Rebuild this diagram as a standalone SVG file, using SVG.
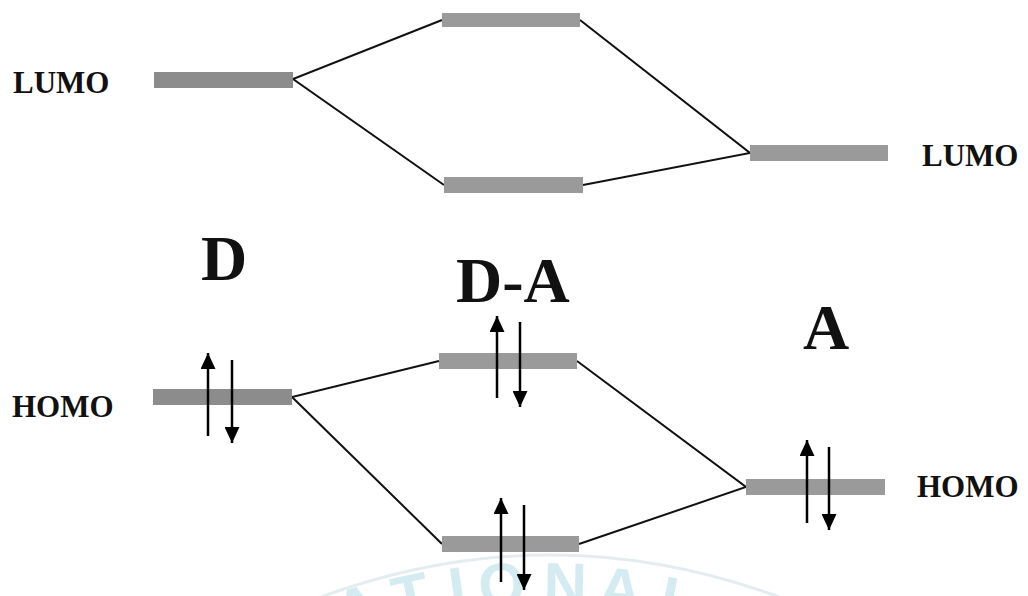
<svg xmlns="http://www.w3.org/2000/svg" width="1028" height="596" viewBox="0 0 1028 596">
  <defs>
    <marker id="ah" markerUnits="userSpaceOnUse" markerWidth="16" markerHeight="15" refX="16" refY="7.5" orient="auto" viewBox="0 0 16 15">
      <path d="M0,0 L16,7.5 L0,15 z" fill="#000"/>
    </marker>
    <style>
      .lab { font-family: "Liberation Serif", "Times New Roman", serif; font-weight: bold; fill: #111; }
      .small { font-size: 31px; }
      .big { font-size: 64px; }
      .bar1 { fill: #8c8c8c; }
      .bar2 { fill: #9a9a9a; }
      .conn { stroke: #111; stroke-width: 2; fill: none; }
      .spin { stroke: #000; stroke-width: 2.5; marker-end: url(#ah); }
      .wm { font-family: "Liberation Sans", Arial, sans-serif; font-weight: bold; font-size: 60px; fill: #d3ebf1; }
    </style>
  </defs>
  <rect width="1028" height="596" fill="#fff"/>

  <!-- watermark -->
  <g id="watermark">
    <path d="M318 598 Q550 512 782 598" fill="none" stroke="#e3edf0" stroke-width="3"/>
    <text class="wm" text-anchor="middle" transform="translate(363,628) rotate(-16)">A</text>
    <text class="wm" text-anchor="middle" transform="translate(415,616) rotate(-12)">T</text>
    <text class="wm" text-anchor="middle" transform="translate(460,609) rotate(-8)">I</text>
    <text class="wm" text-anchor="middle" transform="translate(503,605) rotate(-4)">O</text>
    <text class="wm" text-anchor="middle" transform="translate(565,605) rotate(1)">N</text>
    <text class="wm" text-anchor="middle" transform="translate(618,610) rotate(6)">A</text>
    <text class="wm" text-anchor="middle" transform="translate(675,620) rotate(11)">L</text>
  </g>

  <!-- connectors -->
  <g id="connectors">
    <polyline class="conn" points="442,20 293,79 444,185"/>
    <polyline class="conn" points="580,20 750,153 583,185"/>
    <polyline class="conn" points="439,361 292,397 442,544"/>
    <polyline class="conn" points="577,361 746,487 579,544"/>
  </g>

  <!-- nodes -->
  <g id="d-lumo">
    <rect class="bar1" x="154" y="72" width="139" height="16"/>
    <text class="lab small" x="13" y="93">LUMO</text>
  </g>
  <g id="da-lumo-upper">
    <rect class="bar2" x="442" y="13" width="138" height="14"/>
  </g>
  <g id="da-lumo-lower">
    <rect class="bar2" x="444" y="177" width="139" height="16"/>
  </g>
  <g id="a-lumo">
    <rect class="bar2" x="750" y="145" width="138" height="16"/>
    <text class="lab small" x="922" y="166">LUMO</text>
  </g>

  <g id="d-homo">
    <rect class="bar1" x="153" y="389" width="139" height="16"/>
    <text class="lab small" x="12" y="417">HOMO</text>
    <line class="spin" x1="208" y1="436" x2="208" y2="353"/>
    <line class="spin" x1="232" y1="360" x2="232" y2="443"/>
  </g>
  <g id="da-homo-upper">
    <rect class="bar2" x="439" y="353" width="138" height="16"/>
    <line class="spin" x1="497" y1="398" x2="497" y2="316"/>
    <line class="spin" x1="520" y1="322" x2="520" y2="407"/>
  </g>
  <g id="da-homo-lower">
    <rect class="bar2" x="442" y="536" width="137" height="16"/>
    <line class="spin" x1="501" y1="582" x2="501" y2="498"/>
    <line class="spin" x1="524" y1="505" x2="524" y2="590"/>
  </g>
  <g id="a-homo">
    <rect class="bar2" x="746" y="479" width="139" height="16"/>
    <text class="lab small" x="917" y="497">HOMO</text>
    <line class="spin" x1="807" y1="523" x2="807" y2="440"/>
    <line class="spin" x1="829" y1="447" x2="829" y2="530"/>
  </g>

  <g id="labels">
    <text class="lab big" x="201" y="280">D</text>
    <text class="lab big" x="456" y="302">D-A</text>
    <text class="lab big" x="803" y="349">A</text>
  </g>
</svg>
